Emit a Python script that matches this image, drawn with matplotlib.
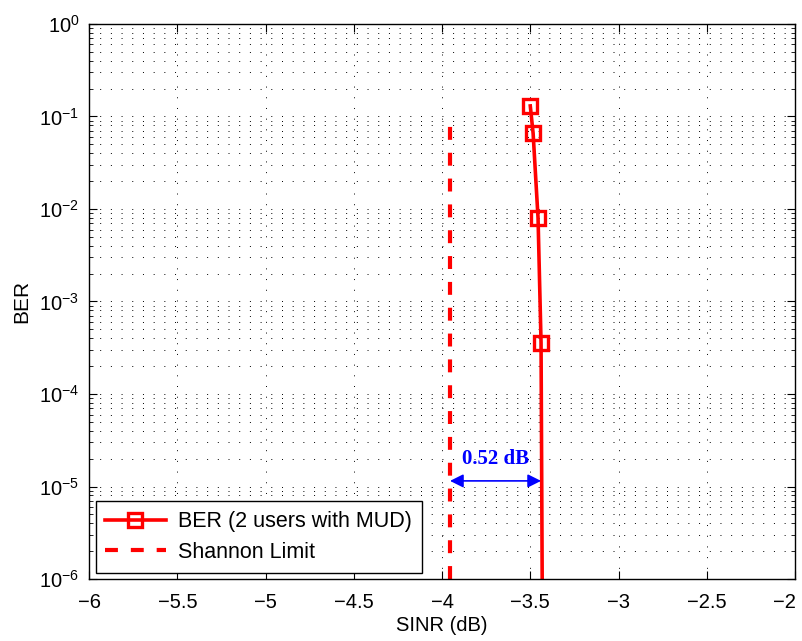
import numpy as np
import matplotlib
matplotlib.use('Agg')
from matplotlib import pyplot as plt
from matplotlib.ticker import LogLocator, NullFormatter, MultipleLocator, FuncFormatter

# data
sinr_db = [-3.50, -3.484, -3.456, -3.439, -3.43]
ber = [0.13, 0.066, 0.008, 3.6e-4, 1e-7]
shannon_x = [-3.955, -3.955]
shannon_y = [1e-6, 0.081]
gap_label = '0.52 dB'
arrow_y = 1.15e-5
text_y = 2.0e-5

plt.rcParams['font.family'] = ['Liberation Sans', 'DejaVu Sans']
plt.rcParams['mathtext.fontset'] = 'custom'
plt.rcParams['mathtext.rm'] = 'Liberation Sans'
plt.rcParams['mathtext.it'] = 'Liberation Sans'
plt.rcParams['axes.unicode_minus'] = True

dot = (0, (1, 10))


def xfmt(v, pos):
    s = ('%g' % v).replace('-', '\u2212')
    if abs(v - (-2)) < 1e-9:
        s += '\u2003'  # nudge the last label left so it stays inside the figure
    return s


def main():
    fig = plt.figure(figsize=(8.03, 6.41), dpi=100)
    ax = fig.add_axes([0.111, 0.0967, 0.879, 0.8659])

    ax.semilogy(sinr_db, ber, color='red', lw=2.6, marker='s', ms=10,
                mfc='none', mec='red', mew=2.4, label='BER (2 users with MUD)')
    ax.semilogy(shannon_x, shannon_y, color='red', lw=3, dashes=(3.1, 3.1),
                label='Shannon Limit')

    ax.set_xlim(-6, -2)
    ax.set_ylim(1e-6, 1)
    ax.xaxis.set_major_locator(MultipleLocator(0.5))
    ax.xaxis.set_major_formatter(FuncFormatter(xfmt))
    ax.yaxis.set_major_locator(LogLocator(base=10, numticks=10))
    ax.yaxis.set_minor_locator(LogLocator(base=10, subs=np.arange(2, 10), numticks=20))
    ax.yaxis.set_minor_formatter(NullFormatter())

    ax.grid(True, which='major', color='black', ls=dot, lw=0.7)
    ax.grid(True, which='minor', axis='y', color='black', ls=dot, lw=0.7)

    ax.tick_params(which='both', direction='in', top=True, right=True, labelsize=14.5)
    ax.tick_params(which='major', length=6, width=0.8, pad=7)
    ax.tick_params(axis='x', which='major', pad=10)
    ax.tick_params(which='minor', length=3, width=0.6)
    for s in ax.spines.values():
        s.set_linewidth(1)

    ax.set_xlabel('SINR (dB)', fontsize=14.5, labelpad=3)
    ax.set_ylabel('BER', fontsize=15, labelpad=6)

    ax.annotate('', xy=(shannon_x[0], arrow_y), xytext=(sinr_db[-2], arrow_y),
                arrowprops=dict(arrowstyle='<|-|>', color='blue', lw=1.2,
                                mutation_scale=20, shrinkA=0, shrinkB=0))
    ax.text((shannon_x[0] + sinr_db[-2]) / 2, text_y, gap_label, color='blue',
            fontsize=15, fontweight='bold', family='Liberation Serif',
            ha='center', va='center')

    leg = ax.legend(loc='lower left', fontsize=15.5, fancybox=False,
                    edgecolor='black', framealpha=1, handlelength=2.8,
                    borderaxespad=0.3, labelspacing=0.45, borderpad=0.45,
                    handletextpad=0.6)
    leg.get_frame().set_linewidth(1)

    fig.savefig('out.png', dpi=100)


if __name__ == '__main__':
    main()
